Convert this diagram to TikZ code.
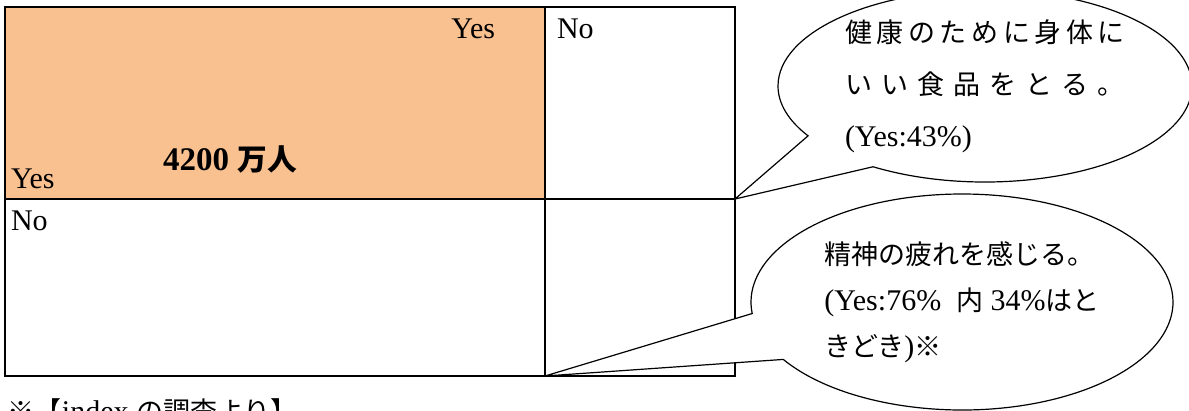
\documentclass[tikz,border=0pt]{standalone}
\usepackage{fontspec}
\setmainfont{Liberation Serif}
\newfontfamily\cjk[Scale=0.9]{Noto Sans CJK JP}
\usetikzlibrary{shapes.callouts,positioning}
\definecolor{peach}{RGB}{249,192,144}

\begin{document}
\begin{tikzpicture}[
        x=1pt, y=-1pt,
        every node/.style={inner sep=0pt, outer sep=0pt, font=\fontsize{30}{52}\selectfont},
        cell/.style={draw, line width=1.6pt, anchor=north west},
        bubble/.style={ellipse callout, draw, line width=1.2pt, fill=white, align=left, callout pointer arc=26}
    ]
    \useasboundingbox (0,0) rectangle (1189,410);

    % Nodes
    \node (yy)[cell, fill=peach, minimum width=540pt, minimum height=192pt] at (5,7) {};
    \node (yn)[cell, minimum width=190pt, minimum height=192pt] at (545,7) {};
    \node (ny)[cell, minimum width=540pt, minimum height=177pt] at (5,199) {};
    \node (nn)[cell, minimum width=190pt, minimum height=177pt] at (545,199) {};

    \node (yestop)[below left=12pt and 50pt of yy.north east] {Yes};
    \node (notop)[below right=12pt and 12pt of yn.north west] {No};
    \node (count)[font=\fontsize{33}{36}\selectfont\bfseries] at (230,159) {4200 {\cjk 万人}};
    \node (yesleft)[above right=10pt and 6pt of yy.south west] {Yes};
    \node (noleft)[below right=12pt and 6pt of ny.north west] {No};

    \node (source)[anchor=north west] at (8,399) {{\cjk ※【}index {\cjk の調査より】}};

    % Callouts
    \node (health)[bubble, minimum width=414pt, minimum height=192pt,
        callout absolute pointer={(yn.south east)}] at (985,86) {%
        \makebox[280pt][s]{\cjk 健\hfil 康\hfil の\hfil た\hfil め\hfil に\hfil 身\hfil 体\hfil に}\\
        \makebox[280pt][s]{\cjk い\hfil い\hfil 食\hfil 品\hfil を\hfil と\hfil る\hfil 。}\\
        (Yes:43\%)};

    \node (tired)[bubble, minimum width=422pt, minimum height=216pt,
        font=\fontsize{30}{46}\selectfont,
        callout absolute pointer={(nn.south west)}] at (962,302) {%
        {\cjk 精神の疲れを感じる。}\\
        (Yes:76\%\ \ {\cjk 内} 34\%{\cjk はと}\\
        {\cjk きどき}){\cjk ※}};

\end{tikzpicture}
\end{document}
